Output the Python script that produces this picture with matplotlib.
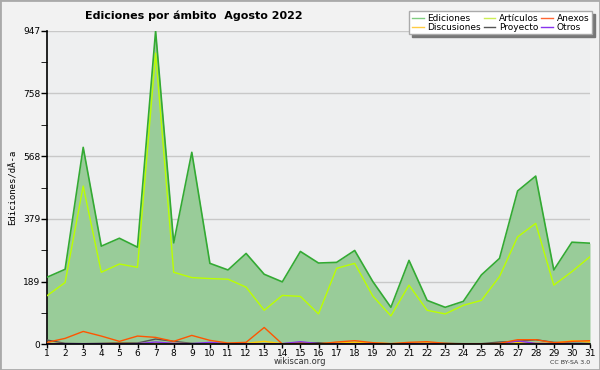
import numpy as np
import matplotlib
matplotlib.use("Agg")
import matplotlib.pyplot as plt
from matplotlib.patches import Rectangle

# daily edits, August 2022
days = list(range(1, 32))
ediciones = [202, 226, 595, 296, 320, 293, 947, 306, 580, 244, 224, 274, 211, 188, 280, 245,
             247, 283, 189, 111, 253, 132, 111, 129, 209, 259, 463, 508, 224, 308, 305]
articulos = [146, 186, 478, 217, 242, 232, 880, 217, 201, 198, 196, 172, 102, 147, 144, 91,
             229, 244, 145, 85, 178, 102, 91, 117, 132, 204, 324, 365, 178, 219, 264]
anexos = [5, 17, 38, 24, 8, 24, 20, 8, 26, 11, 3, 5, 50, 0, 2, 0,
          6, 10, 4, 1, 5, 7, 2, 0, 0, 2, 13, 13, 4, 8, 10]
discusiones = [2, 1, 1, 1, 2, 1, 3, 2, 1, 1, 1, 2, 8, 1, 1, 1,
               3, 5, 3, 1, 2, 3, 1, 1, 1, 1, 4, 3, 2, 10, 6]
proyecto = [12, 2, 1, 2, 4, 3, 15, 8, 2, 1, 1, 1, 1, 1, 3, 4,
            1, 1, 1, 1, 1, 1, 2, 1, 1, 6, 8, 13, 5, 2, 2]
otros = [1, 1, 1, 1, 1, 1, 6, 2, 1, 5, 1, 1, 1, 1, 7, 1,
         1, 1, 1, 1, 1, 1, 1, 1, 1, 1, 9, 2, 1, 1, 1]

yticks = [0, 189, 379, 568, 758, 947]

fig = plt.figure(figsize=(6, 3.7), dpi=100, facecolor="#f2f2f2")
fig.patches.append(Rectangle((0, 0), 1, 1, transform=fig.transFigure, fill=False,
                             edgecolor="#aaaaaa", linewidth=2))
ax = fig.add_axes([47 / 600, 1 - 344 / 370, 543 / 600, 313 / 370])
ax.set_facecolor("#eeeff0")

ax.fill_between(days, ediciones, 0, color="#99cc99", linewidth=0, zorder=2)
ax.plot(days, ediciones, color="#33aa33", linewidth=1.2, zorder=3)
ax.plot(days, articulos, color="#bbff00", linewidth=1.0, zorder=4)
ax.plot(days, proyecto, color="#555555", linewidth=1.0, zorder=4)
ax.plot(days, discusiones, color="#ffcc00", linewidth=1.0, zorder=5)
ax.plot(days, otros, color="#8833ee", linewidth=1.0, zorder=5)
ax.plot(days, anexos, color="#ff5500", linewidth=1.0, zorder=6)

ax.set_xlim(1, 31)
ax.set_ylim(0, 947)
ax.set_xticks(days)
ax.set_yticks(yticks)
ax.set_yticks([94.7 * i for i in range(1, 10, 2)], minor=True)
ax.tick_params(axis="both", labelsize=6.5, width=1, color="black", pad=1)
ax.tick_params(axis="x", length=3, pad=0.5)
ax.tick_params(axis="y", which="both", length=4)
ax.grid(axis="y", color="#c8c8c8", linewidth=1, zorder=1)
ax.set_axisbelow(True)
for s in ["top", "right"]:
    ax.spines[s].set_visible(False)
ax.spines["left"].set_linewidth(1.2)
ax.spines["bottom"].set_linewidth(1.2)
ax.spines["bottom"].set_zorder(7)

ax.set_ylabel("Ediciones/dÃ-a", fontsize=6.5, family="DejaVu Sans Mono", labelpad=4)

fig.text(85 / 600, 1 - 16 / 370, "Ediciones por ámbito  Agosto 2022", fontsize=8,
         fontweight="bold", ha="left", va="center")
fig.text(300 / 600, 1 - 362 / 370, "wikiscan.org", fontsize=6, ha="center", va="center",
         color="#333333")
fig.text(590 / 600, 1 - 362 / 370, "CC BY-SA 3.0", fontsize=4.5, ha="right", va="center",
         color="#333333")

# legend
names = ["Ediciones", "Discusiones", "Artículos", "Proyecto", "Anexos", "Otros"]
cols = ["#80cc80", "#ffcc44", "#ccee55", "#555555", "#ff6633", "#8833ee"]
handles = [plt.Line2D([], [], color=c, linewidth=1) for c in cols]
leg = fig.legend(handles, names, ncol=3, loc="upper right",
                 bbox_to_anchor=(592 / 600, 1 - 11 / 370), fontsize=6.5, frameon=True,
                 fancybox=False, shadow={"color": "#777777", "alpha": 1},
                 edgecolor="#aaaaaa", framealpha=1, handlelength=1.3, handletextpad=0.4,
                 columnspacing=0.3, labelspacing=0.0, borderpad=0.3, borderaxespad=0)
leg.get_frame().set_linewidth(1)

fig.savefig("out.png", dpi=100, facecolor=fig.get_facecolor())
